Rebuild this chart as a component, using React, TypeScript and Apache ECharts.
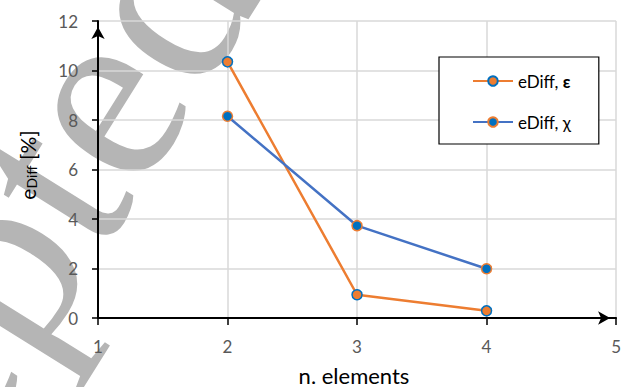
import React, { useEffect, useRef } from "react";
import * as echarts from "echarts";

const xTicks = [1, 2, 3, 4, 5];
const elements = [2, 3, 4];
const eDiffEps = [10.35, 0.94, 0.29];
const eDiffChi = [8.15, 3.73, 1.99];
const seriesNames = ["eDiff, ε", "eDiff, χ"];
const xTitle = "n. elements";
const watermark = "Accepted";

const FONT = "Lato";

export default function App() {
  const ref = useRef<HTMLDivElement>(null);
  useEffect(() => {
    if (!ref.current) return;
    const chart = echarts.init(ref.current, null, { renderer: "svg" });
    const ang = (58 * Math.PI) / 180;
    const axisLine = {
      show: true,
      lineStyle: { color: "#000", width: 2 },
      symbol: ["none", "arrow"],
      symbolSize: [10, 12],
      symbolOffset: [0, -6],
    };
    const option: any = {
      animation: false,
      backgroundColor: "#fff",
      grid: { left: 98, top: 21, width: 528, height: 297 },
      xAxis: {
        type: "value",
        min: xTicks[0],
        max: xTicks[xTicks.length - 1],
        interval: 1,
        axisLine,
        axisTick: { show: true, length: 7, lineStyle: { color: "#000", width: 1.5 } },
        axisLabel: { color: "#595959", fontSize: 17, fontFamily: FONT, margin: 20 },
        splitLine: { show: true, lineStyle: { color: "#d9d9d9", width: 1.5 } },
      },
      yAxis: {
        type: "value",
        min: 0,
        max: 12,
        interval: 2,
        axisLine,
        axisTick: { show: true, length: 6, lineStyle: { color: "#000", width: 1.5 } },
        axisLabel: { color: "#595959", fontSize: 17, fontFamily: FONT, margin: 20 },
        splitLine: { show: true, lineStyle: { color: "#d9d9d9", width: 1.5 } },
      },
      legend: {
        left: 439,
        top: 57,
        orient: "vertical",
        backgroundColor: "#fff",
        borderColor: "#000",
        borderWidth: 1.2,
        borderRadius: 0,
        padding: [14, 28, 12, 33],
        itemGap: 21,
        itemWidth: 40,
        itemHeight: 12,
        data: seriesNames,
        formatter: (name: string) =>
          name === seriesNames[0] ? "eDiff, {b|ε}" : name,
        textStyle: {
          fontFamily: FONT,
          fontSize: 17,
          color: "#000",
          lineHeight: 20,
          rich: {
            b: { fontFamily: FONT, fontSize: 17, fontWeight: "bold", color: "#000", lineHeight: 20 },
          },
        },
      },
      graphic: [
        {
          type: "text",
          z: -5,
          silent: true,
          x: -327,
          y: 774,
          rotation: ang,
          style: {
            text: watermark,
            fontFamily: "Liberation Serif",
            fontSize: 260,
            fill: "#b5b5b5",
            align: "left",
            textAlign: "left",
            verticalAlign: "middle",
            textVerticalAlign: "middle",
          },
        },
        {
          type: "text",
          x: 354,
          y: 375,
          style: {
            text: xTitle,
            fontFamily: FONT,
            fontSize: 22,
            fill: "#000",
            align: "center",
            textAlign: "center",
            verticalAlign: "middle",
            textVerticalAlign: "middle",
          },
        },
        {
          type: "text",
          x: 27,
          y: 165,
          rotation: Math.PI / 2,
          style: {
            text: "{a|e}{b|Diff}{a| [%]}",
            align: "center",
            textAlign: "center",
            verticalAlign: "middle",
            textVerticalAlign: "middle",
            rich: {
              a: { fontFamily: FONT, fontSize: 21, fill: "#000", lineHeight: 22 },
              b: { fontFamily: FONT, fontSize: 14, fill: "#000", lineHeight: 14, padding: [9, 0, 0, 0] },
            },
          },
        },
      ],
      series: [
        {
          name: seriesNames[0],
          type: "line",
          z: 3,
          data: elements.map((x, i) => [x, eDiffEps[i]]),
          symbol: "circle",
          symbolSize: 10,
          lineStyle: { color: "#ED7D31", width: 2.5 },
          itemStyle: { color: "#ED7D31", borderColor: "#0070C0", borderWidth: 1.5 },
        },
        {
          name: seriesNames[1],
          type: "line",
          z: 4,
          data: elements.map((x, i) => [x, eDiffChi[i]]),
          symbol: "circle",
          symbolSize: 10,
          lineStyle: { color: "#4472C4", width: 2.5 },
          itemStyle: { color: "#0070C0", borderColor: "#ED7D31", borderWidth: 1.5 },
        },
      ],
    };
    chart.setOption(option);
    return () => chart.dispose();
  }, []);
  return <div ref={ref} style={{ width: 624, height: 387, position: "absolute", left: 0, top: 0 }} />;
}
